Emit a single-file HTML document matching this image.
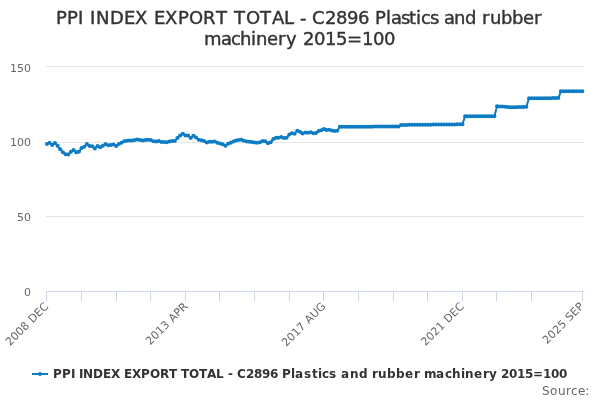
<!DOCTYPE html>
<html><head><meta charset="utf-8"><title>chart</title>
<style>
html,body{margin:0;padding:0;background:#fff;}
body{width:600px;height:400px;overflow:hidden;}
svg{display:block;font-family:"DejaVu Sans","Liberation Sans",sans-serif;}
</style></head><body>
<svg width="600" height="400" viewBox="0 0 600 400">
<rect x="0" y="0" width="600" height="400" fill="#ffffff"/>
<g stroke="#e6e6e6" stroke-width="1" fill="none">
<path d="M 46 66.5 L 584 66.5"/><path d="M 46 142.5 L 584 142.5"/><path d="M 46 216.5 L 584 216.5"/><path d="M 46 291.5 L 584 291.5"/>
</g>
<g stroke="#ccd6eb" stroke-width="1" fill="none">
<path d="M 46 291.5 L 584 291.5"/>
<path d="M 46.5 291 L 46.5 301"/><path d="M 81.5 291 L 81.5 301"/><path d="M 116.5 291 L 116.5 301"/><path d="M 150.5 291 L 150.5 301"/><path d="M 185.5 291 L 185.5 301"/><path d="M 219.5 291 L 219.5 301"/><path d="M 254.5 291 L 254.5 301"/><path d="M 289.5 291 L 289.5 301"/><path d="M 323.5 291 L 323.5 301"/><path d="M 358.5 291 L 358.5 301"/><path d="M 393.5 291 L 393.5 301"/><path d="M 427.5 291 L 427.5 301"/><path d="M 462.5 291 L 462.5 301"/><path d="M 496.5 291 L 496.5 301"/><path d="M 531.5 291 L 531.5 301"/><path d="M 582.5 291 L 582.5 301"/>
</g>
<g>
<path d="M 46.93 144.10 L 49.60 142.70 L 52.26 145.10 L 54.92 142.90 L 57.59 145.80 L 60.25 149.30 L 62.91 152.30 L 65.58 154.30 L 68.24 154.50 L 70.90 151.80 L 73.57 150.10 L 76.23 152.30 L 78.89 151.80 L 81.56 148.10 L 84.22 146.80 L 86.88 144.10 L 89.55 146.10 L 92.21 146.30 L 94.87 148.50 L 97.54 146.00 L 100.20 147.35 L 102.86 145.80 L 105.53 144.00 L 108.19 145.30 L 110.85 145.10 L 113.52 144.50 L 116.18 146.00 L 118.84 143.90 L 121.51 142.67 L 124.17 141.19 L 126.83 140.87 L 129.50 140.59 L 132.16 140.62 L 134.82 139.96 L 137.49 139.62 L 140.15 140.04 L 142.81 140.38 L 145.48 140.00 L 148.14 139.77 L 150.80 140.05 L 153.47 141.24 L 156.13 141.60 L 158.79 140.93 L 161.46 142.05 L 164.12 142.10 L 166.78 142.32 L 169.45 141.40 L 172.11 141.10 L 174.77 141.10 L 177.44 137.99 L 180.10 135.52 L 182.76 133.64 L 185.43 135.43 L 188.09 135.51 L 190.75 138.03 L 193.42 135.68 L 196.08 137.43 L 198.74 139.78 L 201.41 140.29 L 204.07 141.03 L 206.73 142.41 L 209.40 141.65 L 212.06 141.74 L 214.72 141.59 L 217.39 142.77 L 220.05 143.47 L 222.71 144.28 L 225.38 145.72 L 228.04 143.74 L 230.70 142.74 L 233.37 141.45 L 236.03 140.55 L 238.69 140.05 L 241.36 139.75 L 244.02 140.73 L 246.68 141.43 L 249.35 141.74 L 252.01 142.04 L 254.67 142.43 L 257.34 142.74 L 260.00 142.27 L 262.66 141.11 L 265.33 141.24 L 267.99 143.13 L 270.65 142.32 L 273.32 139.00 L 275.98 137.83 L 278.64 137.75 L 281.31 137.11 L 283.97 137.96 L 286.63 137.78 L 289.30 134.43 L 291.96 133.34 L 294.62 133.69 L 297.29 130.66 L 299.95 131.83 L 302.61 133.53 L 305.28 132.45 L 307.94 132.68 L 310.60 132.15 L 313.27 133.25 L 315.93 132.94 L 318.60 130.91 L 321.26 130.30 L 323.92 129.00 L 326.59 129.99 L 329.25 129.84 L 331.91 130.57 L 334.58 130.99 L 337.24 130.81 L 339.90 126.80 L 342.57 126.79 L 345.23 126.77 L 347.89 126.76 L 350.56 126.75 L 353.22 126.73 L 355.88 126.72 L 358.55 126.70 L 361.21 126.69 L 363.87 126.68 L 366.54 126.66 L 369.20 126.65 L 371.86 126.64 L 374.53 126.62 L 377.19 126.61 L 379.85 126.60 L 382.52 126.58 L 385.18 126.57 L 387.84 126.55 L 390.51 126.54 L 393.17 126.53 L 395.83 126.51 L 398.50 126.50 L 401.16 124.95 L 403.82 124.92 L 406.49 124.89 L 409.15 124.87 L 411.81 124.84 L 414.48 124.81 L 417.14 124.78 L 419.80 124.75 L 422.47 124.72 L 425.13 124.70 L 427.79 124.67 L 430.46 124.64 L 433.12 124.61 L 435.78 124.58 L 438.45 124.55 L 441.11 124.53 L 443.77 124.50 L 446.44 124.47 L 449.10 124.44 L 451.76 124.41 L 454.43 124.38 L 457.09 124.36 L 459.75 124.33 L 462.42 124.30 L 465.08 116.35 L 467.74 116.35 L 470.41 116.35 L 473.07 116.35 L 475.73 116.35 L 478.40 116.35 L 481.06 116.35 L 483.72 116.35 L 486.39 116.35 L 489.05 116.35 L 491.71 116.35 L 494.38 116.35 L 497.04 106.30 L 499.70 106.40 L 502.37 106.60 L 505.03 106.80 L 507.69 107.00 L 510.36 107.15 L 513.02 107.20 L 515.68 107.20 L 518.35 107.10 L 521.01 107.00 L 523.67 106.90 L 526.34 106.85 L 529.00 98.30 L 531.66 98.28 L 534.33 98.26 L 536.99 98.24 L 539.65 98.22 L 542.32 98.20 L 544.98 98.18 L 547.64 98.16 L 550.31 98.14 L 552.97 98.12 L 555.63 98.10 L 558.30 98.08 L 560.96 91.30 L 563.62 91.30 L 566.29 91.30 L 568.95 91.30 L 571.61 91.30 L 574.28 91.30 L 576.94 91.30 L 579.60 91.30 L 582.27 91.30" fill="none" stroke="#0d7cc4" stroke-width="2" stroke-linejoin="round" stroke-linecap="round"/>
<g fill="#0d7cc4"><circle cx="46.93" cy="144.10" r="2"/><circle cx="49.60" cy="142.70" r="2"/><circle cx="52.26" cy="145.10" r="2"/><circle cx="54.92" cy="142.90" r="2"/><circle cx="57.59" cy="145.80" r="2"/><circle cx="60.25" cy="149.30" r="2"/><circle cx="62.91" cy="152.30" r="2"/><circle cx="65.58" cy="154.30" r="2"/><circle cx="68.24" cy="154.50" r="2"/><circle cx="70.90" cy="151.80" r="2"/><circle cx="73.57" cy="150.10" r="2"/><circle cx="76.23" cy="152.30" r="2"/><circle cx="78.89" cy="151.80" r="2"/><circle cx="81.56" cy="148.10" r="2"/><circle cx="84.22" cy="146.80" r="2"/><circle cx="86.88" cy="144.10" r="2"/><circle cx="89.55" cy="146.10" r="2"/><circle cx="92.21" cy="146.30" r="2"/><circle cx="94.87" cy="148.50" r="2"/><circle cx="97.54" cy="146.00" r="2"/><circle cx="100.20" cy="147.35" r="2"/><circle cx="102.86" cy="145.80" r="2"/><circle cx="105.53" cy="144.00" r="2"/><circle cx="108.19" cy="145.30" r="2"/><circle cx="110.85" cy="145.10" r="2"/><circle cx="113.52" cy="144.50" r="2"/><circle cx="116.18" cy="146.00" r="2"/><circle cx="118.84" cy="143.90" r="2"/><circle cx="121.51" cy="142.67" r="2"/><circle cx="124.17" cy="141.19" r="2"/><circle cx="126.83" cy="140.87" r="2"/><circle cx="129.50" cy="140.59" r="2"/><circle cx="132.16" cy="140.62" r="2"/><circle cx="134.82" cy="139.96" r="2"/><circle cx="137.49" cy="139.62" r="2"/><circle cx="140.15" cy="140.04" r="2"/><circle cx="142.81" cy="140.38" r="2"/><circle cx="145.48" cy="140.00" r="2"/><circle cx="148.14" cy="139.77" r="2"/><circle cx="150.80" cy="140.05" r="2"/><circle cx="153.47" cy="141.24" r="2"/><circle cx="156.13" cy="141.60" r="2"/><circle cx="158.79" cy="140.93" r="2"/><circle cx="161.46" cy="142.05" r="2"/><circle cx="164.12" cy="142.10" r="2"/><circle cx="166.78" cy="142.32" r="2"/><circle cx="169.45" cy="141.40" r="2"/><circle cx="172.11" cy="141.10" r="2"/><circle cx="174.77" cy="141.10" r="2"/><circle cx="177.44" cy="137.99" r="2"/><circle cx="180.10" cy="135.52" r="2"/><circle cx="182.76" cy="133.64" r="2"/><circle cx="185.43" cy="135.43" r="2"/><circle cx="188.09" cy="135.51" r="2"/><circle cx="190.75" cy="138.03" r="2"/><circle cx="193.42" cy="135.68" r="2"/><circle cx="196.08" cy="137.43" r="2"/><circle cx="198.74" cy="139.78" r="2"/><circle cx="201.41" cy="140.29" r="2"/><circle cx="204.07" cy="141.03" r="2"/><circle cx="206.73" cy="142.41" r="2"/><circle cx="209.40" cy="141.65" r="2"/><circle cx="212.06" cy="141.74" r="2"/><circle cx="214.72" cy="141.59" r="2"/><circle cx="217.39" cy="142.77" r="2"/><circle cx="220.05" cy="143.47" r="2"/><circle cx="222.71" cy="144.28" r="2"/><circle cx="225.38" cy="145.72" r="2"/><circle cx="228.04" cy="143.74" r="2"/><circle cx="230.70" cy="142.74" r="2"/><circle cx="233.37" cy="141.45" r="2"/><circle cx="236.03" cy="140.55" r="2"/><circle cx="238.69" cy="140.05" r="2"/><circle cx="241.36" cy="139.75" r="2"/><circle cx="244.02" cy="140.73" r="2"/><circle cx="246.68" cy="141.43" r="2"/><circle cx="249.35" cy="141.74" r="2"/><circle cx="252.01" cy="142.04" r="2"/><circle cx="254.67" cy="142.43" r="2"/><circle cx="257.34" cy="142.74" r="2"/><circle cx="260.00" cy="142.27" r="2"/><circle cx="262.66" cy="141.11" r="2"/><circle cx="265.33" cy="141.24" r="2"/><circle cx="267.99" cy="143.13" r="2"/><circle cx="270.65" cy="142.32" r="2"/><circle cx="273.32" cy="139.00" r="2"/><circle cx="275.98" cy="137.83" r="2"/><circle cx="278.64" cy="137.75" r="2"/><circle cx="281.31" cy="137.11" r="2"/><circle cx="283.97" cy="137.96" r="2"/><circle cx="286.63" cy="137.78" r="2"/><circle cx="289.30" cy="134.43" r="2"/><circle cx="291.96" cy="133.34" r="2"/><circle cx="294.62" cy="133.69" r="2"/><circle cx="297.29" cy="130.66" r="2"/><circle cx="299.95" cy="131.83" r="2"/><circle cx="302.61" cy="133.53" r="2"/><circle cx="305.28" cy="132.45" r="2"/><circle cx="307.94" cy="132.68" r="2"/><circle cx="310.60" cy="132.15" r="2"/><circle cx="313.27" cy="133.25" r="2"/><circle cx="315.93" cy="132.94" r="2"/><circle cx="318.60" cy="130.91" r="2"/><circle cx="321.26" cy="130.30" r="2"/><circle cx="323.92" cy="129.00" r="2"/><circle cx="326.59" cy="129.99" r="2"/><circle cx="329.25" cy="129.84" r="2"/><circle cx="331.91" cy="130.57" r="2"/><circle cx="334.58" cy="130.99" r="2"/><circle cx="337.24" cy="130.81" r="2"/><circle cx="339.90" cy="126.80" r="2"/><circle cx="342.57" cy="126.79" r="2"/><circle cx="345.23" cy="126.77" r="2"/><circle cx="347.89" cy="126.76" r="2"/><circle cx="350.56" cy="126.75" r="2"/><circle cx="353.22" cy="126.73" r="2"/><circle cx="355.88" cy="126.72" r="2"/><circle cx="358.55" cy="126.70" r="2"/><circle cx="361.21" cy="126.69" r="2"/><circle cx="363.87" cy="126.68" r="2"/><circle cx="366.54" cy="126.66" r="2"/><circle cx="369.20" cy="126.65" r="2"/><circle cx="371.86" cy="126.64" r="2"/><circle cx="374.53" cy="126.62" r="2"/><circle cx="377.19" cy="126.61" r="2"/><circle cx="379.85" cy="126.60" r="2"/><circle cx="382.52" cy="126.58" r="2"/><circle cx="385.18" cy="126.57" r="2"/><circle cx="387.84" cy="126.55" r="2"/><circle cx="390.51" cy="126.54" r="2"/><circle cx="393.17" cy="126.53" r="2"/><circle cx="395.83" cy="126.51" r="2"/><circle cx="398.50" cy="126.50" r="2"/><circle cx="401.16" cy="124.95" r="2"/><circle cx="403.82" cy="124.92" r="2"/><circle cx="406.49" cy="124.89" r="2"/><circle cx="409.15" cy="124.87" r="2"/><circle cx="411.81" cy="124.84" r="2"/><circle cx="414.48" cy="124.81" r="2"/><circle cx="417.14" cy="124.78" r="2"/><circle cx="419.80" cy="124.75" r="2"/><circle cx="422.47" cy="124.72" r="2"/><circle cx="425.13" cy="124.70" r="2"/><circle cx="427.79" cy="124.67" r="2"/><circle cx="430.46" cy="124.64" r="2"/><circle cx="433.12" cy="124.61" r="2"/><circle cx="435.78" cy="124.58" r="2"/><circle cx="438.45" cy="124.55" r="2"/><circle cx="441.11" cy="124.53" r="2"/><circle cx="443.77" cy="124.50" r="2"/><circle cx="446.44" cy="124.47" r="2"/><circle cx="449.10" cy="124.44" r="2"/><circle cx="451.76" cy="124.41" r="2"/><circle cx="454.43" cy="124.38" r="2"/><circle cx="457.09" cy="124.36" r="2"/><circle cx="459.75" cy="124.33" r="2"/><circle cx="462.42" cy="124.30" r="2"/><circle cx="465.08" cy="116.35" r="2"/><circle cx="467.74" cy="116.35" r="2"/><circle cx="470.41" cy="116.35" r="2"/><circle cx="473.07" cy="116.35" r="2"/><circle cx="475.73" cy="116.35" r="2"/><circle cx="478.40" cy="116.35" r="2"/><circle cx="481.06" cy="116.35" r="2"/><circle cx="483.72" cy="116.35" r="2"/><circle cx="486.39" cy="116.35" r="2"/><circle cx="489.05" cy="116.35" r="2"/><circle cx="491.71" cy="116.35" r="2"/><circle cx="494.38" cy="116.35" r="2"/><circle cx="497.04" cy="106.30" r="2"/><circle cx="499.70" cy="106.40" r="2"/><circle cx="502.37" cy="106.60" r="2"/><circle cx="505.03" cy="106.80" r="2"/><circle cx="507.69" cy="107.00" r="2"/><circle cx="510.36" cy="107.15" r="2"/><circle cx="513.02" cy="107.20" r="2"/><circle cx="515.68" cy="107.20" r="2"/><circle cx="518.35" cy="107.10" r="2"/><circle cx="521.01" cy="107.00" r="2"/><circle cx="523.67" cy="106.90" r="2"/><circle cx="526.34" cy="106.85" r="2"/><circle cx="529.00" cy="98.30" r="2"/><circle cx="531.66" cy="98.28" r="2"/><circle cx="534.33" cy="98.26" r="2"/><circle cx="536.99" cy="98.24" r="2"/><circle cx="539.65" cy="98.22" r="2"/><circle cx="542.32" cy="98.20" r="2"/><circle cx="544.98" cy="98.18" r="2"/><circle cx="547.64" cy="98.16" r="2"/><circle cx="550.31" cy="98.14" r="2"/><circle cx="552.97" cy="98.12" r="2"/><circle cx="555.63" cy="98.10" r="2"/><circle cx="558.30" cy="98.08" r="2"/><circle cx="560.96" cy="91.30" r="2"/><circle cx="563.62" cy="91.30" r="2"/><circle cx="566.29" cy="91.30" r="2"/><circle cx="568.95" cy="91.30" r="2"/><circle cx="571.61" cy="91.30" r="2"/><circle cx="574.28" cy="91.30" r="2"/><circle cx="576.94" cy="91.30" r="2"/><circle cx="579.60" cy="91.30" r="2"/><circle cx="582.27" cy="91.30" r="2"/></g>
</g>
<g font-size="18px" fill="#333333" stroke="#333333" stroke-width="0.4"><text x="56 67 78 84 90 96 110 124 135 148 154 165 178 189 203 216 228 234 246 260 272 284 294 300 306 312 325 336 347 358 369 375 386 391 401 409 416 421 430 438 444 454 465 476 482 490 501 512 523 534" y="24">PPI INDEX EXPORT TOTAL - C2896 Plastics and rubber</text><text x="204 221 231 240 251 256 267 278 286 297 303 314 325 336 347 362 373 384" y="45">machinery 2015=100</text></g>
<g font-size="11px" fill="#666666" text-anchor="end">
<text x="31" y="72">150</text><text x="31" y="146">100</text><text x="31" y="221">50</text><text x="31" y="296">0</text>
</g>
<g font-size="11px" fill="#666666"><text x="49.23" y="307.0" text-anchor="end" textLength="55.61" transform="rotate(-45 49.23 307.0)">2008 DEC</text><text x="188.53" y="307.0" text-anchor="end" textLength="54.31" transform="rotate(-45 188.53 307.0)">2013 APR</text><text x="326.22" y="307.0" text-anchor="end" textLength="56.61" transform="rotate(-45 326.22 307.0)">2017 AUG</text><text x="464.72" y="307.0" text-anchor="end" textLength="55.61" transform="rotate(-45 464.72 307.0)">2021 DEC</text><text x="584.57" y="307.0" text-anchor="end" textLength="53.08" transform="rotate(-45 584.57 307.0)">2025 SEP</text></g>
<g>
<path d="M 32 374 L 48 374" stroke="#0d7cc4" stroke-width="2" fill="none"/>
<circle cx="40" cy="374" r="2" fill="#0d7cc4"/>
<text x="53 62 71 75 79 83 93 103 111 120 124 132 141 150 160 169 177 181 189 199 207 216 224 228 233 237 246 254 262 270 278 282 291 295 304 312 318 322 329 337 341 350 359 368 372 378 387 396 405 414 420 424 436 445 452 461 465 474 483 489 497 501 509 517 525 533 543 551 559" y="378" font-size="12px" font-weight="bold" fill="#333333">PPI INDEX EXPORT TOTAL - C2896 Plastics and rubber machinery 2015=100</text>
</g>
<text x="542 550 558 566 571 578 585.3" y="395" font-size="12px" fill="#666666">Source:</text>
</svg>
</body></html>
